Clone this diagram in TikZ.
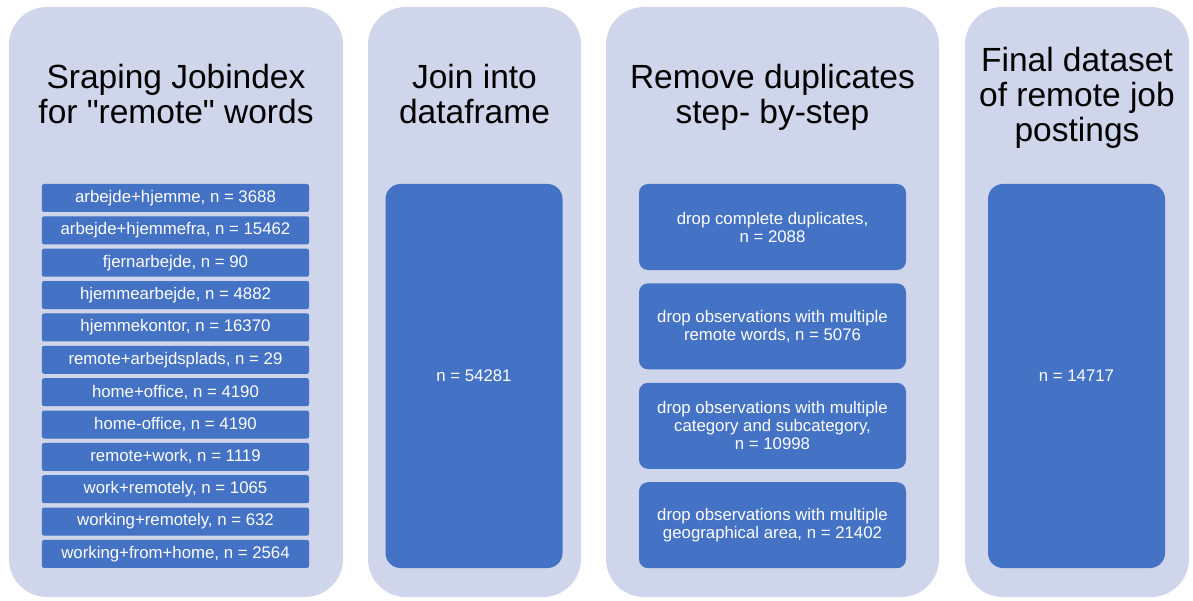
\documentclass[tikz,border=0pt]{standalone}
\usepackage{fontspec}
\setmainfont{Liberation Sans}
\definecolor{panelbg}{HTML}{CFD5EA}
\definecolor{boxblue}{HTML}{4472C4}
\begin{document}
\begin{tikzpicture}[x=1bp, y=-1bp]
		% Styles
		\tikzstyle{panel}=[rectangle,fill=panelbg,rounded corners=38bp,minimum height=590bp,inner sep=0pt]
		\tikzstyle{title}=[align=center,anchor=north,inner sep=0pt,font=\fontsize{33.5bp}{35bp}\selectfont]
		\tikzstyle{wordbox}=[rectangle,fill=boxblue,text=white,rounded corners=2bp,minimum width=267bp,minimum height=28bp,inner sep=0pt,font=\fontsize{16.8bp}{18bp}\selectfont]
		\tikzstyle{stepbox}=[wordbox,align=center,rounded corners=9bp,minimum height=86bp]
		\tikzstyle{bigbox}=[wordbox,rounded corners=15bp,minimum width=177bp,minimum height=384bp]

		\useasboundingbox (0,0) rectangle (1193,601);

		% Panels
		\foreach \name/\x/\w in {scrape/176/334, join/474.5/213, dedup/772.5/333, final/1077/224}
		\node[panel,minimum width=\w bp] (\name) at (\x,302) {};

		% Nodes for scraping
		\foreach \txt [count=\i from 0] in {{arbejde+hjemme, n = 3688}, {arbejde+hjemmefra, n = 15462},
			{fjernarbejde, n = 90}, {hjemmearbejde, n = 4882}, {hjemmekontor, n = 16370},
			{remote+arbejdsplads, n = 29}, {home+office, n = 4190}, {home-office, n = 4190},
			{remote+work, n = 1119}, {work+remotely, n = 1065}, {working+remotely, n = 632},
			{working+from+home, n = 2564}}
		\node[wordbox] (w\i) at (175.5,{198+32.36*\i}) {\txt};

		% Node for joining
		\node[bigbox] (joined) at (474,376) {n = 54281};

		% Nodes for removing duplicates
		\foreach \txt [count=\i from 0] in {{drop complete duplicates,\\ n = 2088},
			{drop observations with multiple\\ remote words, n = 5076},
			{drop observations with multiple\\ category and subcategory,\\ n = 10998},
			{drop observations with multiple\\ geographical area, n = 21402}}
		\node[stepbox] (s\i) at (772.5,{227+99.4*\i}) {\txt};

		% Node for final dataset
		\node[bigbox] (result) at (1076.5,376) {n = 14717};

		% Labels
		\node[title] at (176,64.5) {Sraping Jobindex\\for \textquotedbl remote\textquotedbl{} words};
		\node[title] at (474.5,64.5) {Join into\\dataframe};
		\node[title] at (772.5,64.5) {Remove duplicates\\step- by-step};
		\node[title] at (1077,47.5) {Final dataset\\of remote job\\postings};
	\end{tikzpicture}
\end{document}
